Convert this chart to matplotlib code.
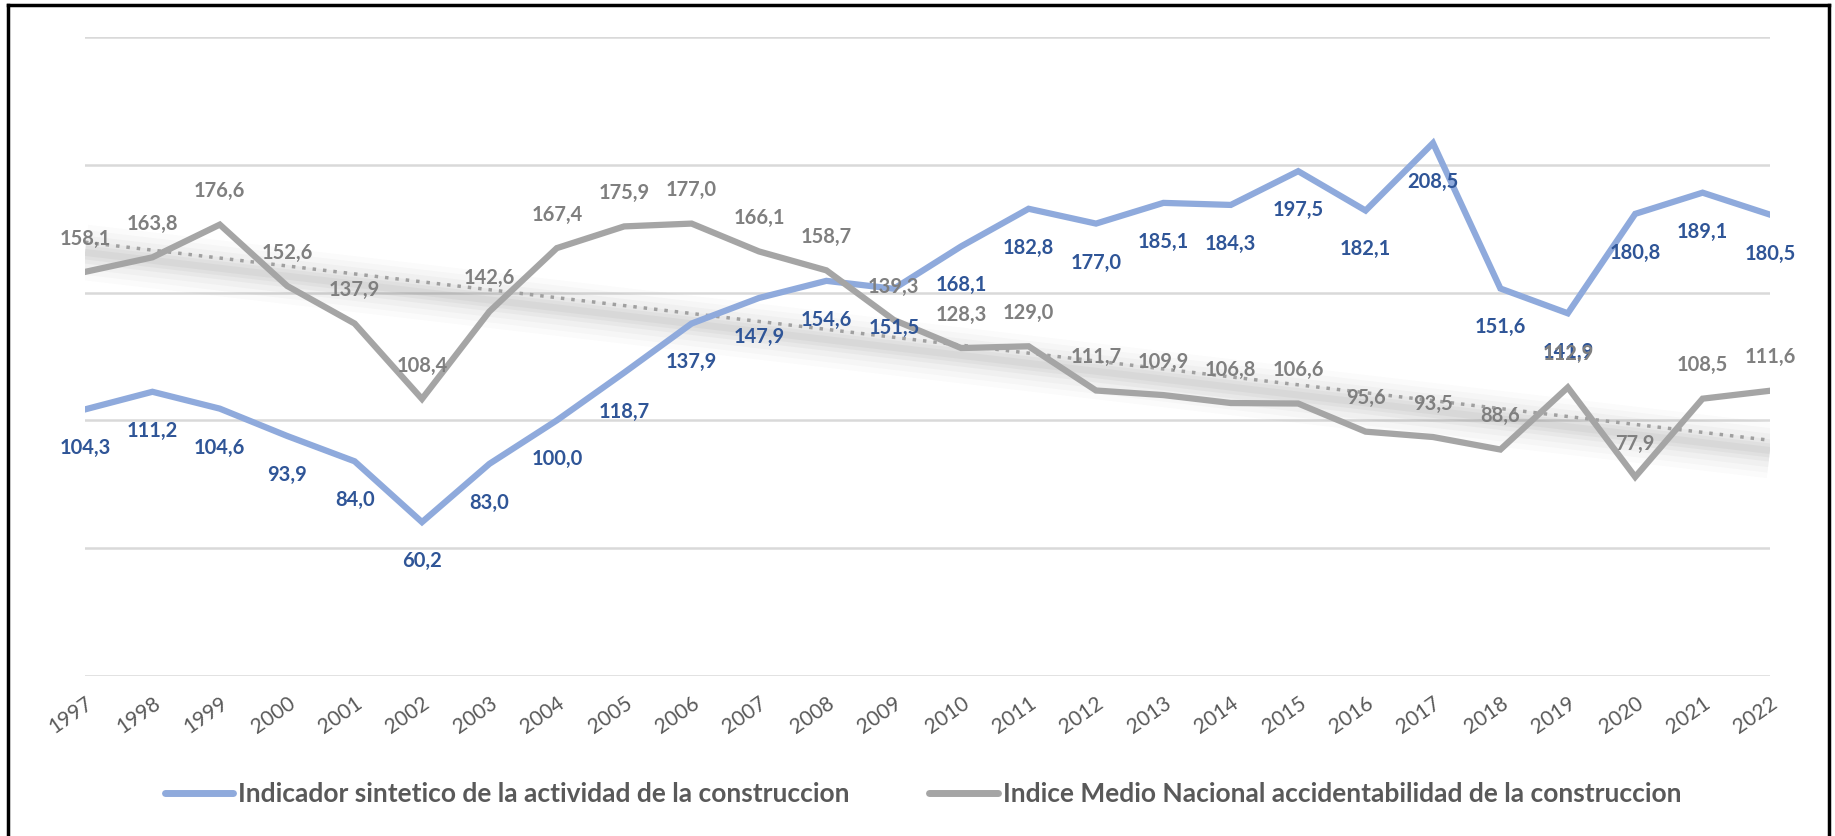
import matplotlib
matplotlib.use("Agg")
import matplotlib.pyplot as plt
import numpy as np

plt.rcParams["font.family"] = ["Lato", "DejaVu Sans"]

# Datos
years = list(range(1997, 2023))
actividad = [104.3, 111.2, 104.6, 93.9, 84.0, 60.2, 83.0, 100.0, 118.7, 137.9,
             147.9, 154.6, 151.5, 168.1, 182.8, 177.0, 185.1, 184.3, 197.5, 182.1,
             208.5, 151.6, 141.9, 180.8, 189.1, 180.5]
accidentes = [158.1, 163.8, 176.6, 152.6, 137.9, 108.4, 142.6, 167.4, 175.9, 177.0,
              166.1, 158.7, 139.3, 128.3, 129.0, 111.7, 109.9, 106.8, 106.6, 95.6,
              93.5, 88.6, 112.9, 77.9, 108.5, 111.6]
nombre_act = "Indicador sintetico de la actividad de la construccion"
nombre_acc = "Indice Medio Nacional accidentabilidad de la construccion"

azul = "#8FAADC"
azul_txt = "#2F5597"
gris = "#A5A5A5"
gris_txt = "#7F7F7F"

fig = plt.figure(figsize=(18.35, 8.36), dpi=100)
ax = fig.add_axes([85/1835, 1 - 676/836, (1770-85)/1835, (676-37)/836])

# tendencia lineal con sombra
coef = np.polyfit(years, accidentes, 1)
trend = np.polyval(coef, years)
for w, a in [(40, 0.025), (32, 0.03), (24, 0.04), (16, 0.05), (10, 0.06), (5, 0.06)]:
    ax.plot(years, trend - 4, color="#606060", linewidth=w, alpha=a,
            solid_capstyle="butt", zorder=1)
ax.plot(years, trend, linestyle=(0, (1, 2)), color="#A0A0A0", linewidth=2.5, zorder=2)

ax.plot(years, actividad, color=azul, linewidth=4.5, solid_joinstyle="miter", zorder=3,
        label=nombre_act)
ax.plot(years, accidentes, color=gris, linewidth=4.5, solid_joinstyle="miter", zorder=3,
        label=nombre_acc)

for x, v in zip(years, actividad):
    ax.annotate(f"{v:.1f}".replace(".", ","), (x, v), xytext=(0, -28),
                textcoords="offset points", ha="center", va="center",
                fontsize=14.5, fontweight="bold", color=azul_txt, zorder=5)
for x, v in zip(years, accidentes):
    ax.annotate(f"{v:.1f}".replace(".", ","), (x, v), xytext=(0, 24),
                textcoords="offset points", ha="center", va="center",
                fontsize=14.5, fontweight="bold", color=gris_txt, zorder=5)

ax.set_xlim(1997, 2022)
ax.set_ylim(0, 250)
ax.set_yticks([0, 50, 100, 150, 200, 250])
ax.set_yticklabels([])
ax.set_xticks(years)
ax.set_xticklabels([str(y) for y in years], rotation=35, ha="right",
                   rotation_mode="anchor", fontsize=15, color="#595959")
ax.tick_params(axis="both", length=0)
ax.tick_params(axis="x", pad=12)
ax.grid(axis="y", color="#D9D9D9", linewidth=1.8)
ax.set_axisbelow(True)
for s in ax.spines.values():
    s.set_visible(False)

leg = fig.legend(loc="center", bbox_to_anchor=(0.503, 1 - 794/836), ncol=2, frameon=False,
                 prop={"size": 19, "weight": "bold"}, labelcolor="#595959",
                 handlelength=2.6, handletextpad=0.2, columnspacing=3.0)
for h in leg.get_lines():
    h.set_linewidth(5)
    h.set_solid_capstyle("round")

# marco
for xs, ys in [([8/1835, 8/1835], [0, 1 - 5/836]),
               ([8/1835, 1829/1835], [1 - 5/836, 1 - 5/836]),
               ([1829/1835, 1829/1835], [1 - 5/836, 0])]:
    fig.add_artist(plt.Line2D(xs, ys, color="black", linewidth=2.5))

plt.savefig("out.png", dpi=100)
